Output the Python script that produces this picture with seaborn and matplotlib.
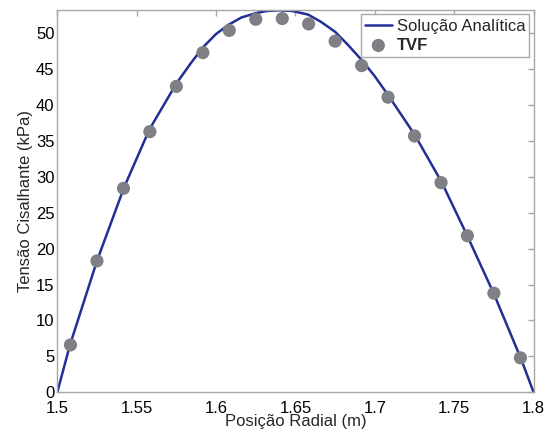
import numpy as np
import pandas as pd
import matplotlib
matplotlib.use("Agg")
import matplotlib.pyplot as plt
from matplotlib.ticker import FormatStrFormatter
import seaborn as sns

# analytical curve
r_analitica = [1.500, 1.508, 1.525, 1.542, 1.558, 1.575, 1.584, 1.592, 1.600, 1.608, 1.616,
               1.625, 1.632, 1.640, 1.648, 1.658, 1.666, 1.675, 1.683, 1.692, 1.700, 1.708,
               1.725, 1.742, 1.758, 1.775, 1.792, 1.800]
tau_analitica = [0.0, 6.6, 18.3, 28.5, 36.6, 43.0, 45.8, 48.1, 49.9, 51.2, 52.2,
                 52.8, 53.1, 53.2, 53.1, 52.6, 51.6, 50.2, 48.4, 46.2, 44.0, 41.5,
                 35.9, 29.3, 21.9, 13.7, 4.7, 0.0]

# finite volume points (cell centres)
r_tvf = [1.5083, 1.5250, 1.5417, 1.5583, 1.5750, 1.5917, 1.6083, 1.6250, 1.6417,
         1.6583, 1.6750, 1.6917, 1.7083, 1.7250, 1.7417, 1.7583, 1.7750, 1.7917]
tau_tvf = [6.6, 18.3, 28.4, 36.3, 42.6, 47.3, 50.4, 51.95, 52.05,
           51.3, 48.9, 45.5, 41.1, 35.7, 29.2, 21.8, 13.8, 4.8]

sns.set_style("white")
plt.rcParams["font.family"] = ["Liberation Sans", "DejaVu Sans"]

df_line = pd.DataFrame({"r": r_analitica, "tau": tau_analitica})
df_pts = pd.DataFrame({"r": r_tvf, "tau": tau_tvf})

fig, ax = plt.subplots(figsize=(5.54, 4.32), dpi=100)
fig.subplots_adjust(left=0.1034, right=0.9632, bottom=0.0919, top=0.9762)

sns.lineplot(data=df_line, x="r", y="tau", ax=ax, color="#222f96", linewidth=1.8,
             label="Solução Analítica", zorder=2)
sns.scatterplot(data=df_pts, x="r", y="tau", ax=ax, color="#7f7f86", s=90,
                edgecolor="none", label="TVF", zorder=3)

ax.set_xlim(1.5, 1.8)
ax.set_ylim(0, 53.2)
ax.set_xticks(np.arange(1.5, 1.801, 0.05))
ax.set_yticks(np.arange(0, 51, 5))
ax.xaxis.set_major_formatter(FormatStrFormatter("%g"))
ax.yaxis.set_major_formatter(FormatStrFormatter("%g"))

for s in ax.spines.values():
    s.set_color("#a8a8a8")
    s.set_linewidth(1)
ax.tick_params(direction="in", length=4, width=1, color="#a8a8a8",
               top=True, right=True, labelsize=12, labelcolor="black", pad=2)
ax.tick_params(axis="x", pad=6)

ax.set_xlabel("Posição Radial (m)", fontsize=12, labelpad=-1)
ax.set_ylabel("Tensão Cisalhante (kPa)", fontsize=12, labelpad=2)

leg = ax.legend(loc="upper right", fontsize=12, frameon=True, fancybox=False,
                framealpha=1, edgecolor="#a8a8a8", borderaxespad=0.25,
                handlelength=1.6, handletextpad=0.3, borderpad=0.25, labelspacing=0.25)
leg.get_frame().set_linewidth(1)
leg.get_texts()[1].set_fontweight("bold")

plt.savefig("out.png", dpi=100)
plt.close()
